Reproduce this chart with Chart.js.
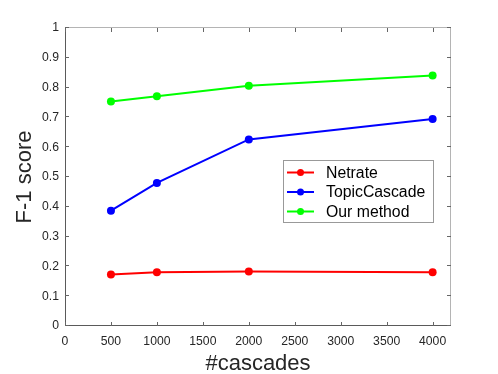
<!DOCTYPE html>
<html>
<head>
<meta charset="utf-8">
<script src="https://cdn.jsdelivr.net/npm/chart.js@4/dist/chart.umd.min.js"></script>
<style>
  html, body { margin: 0; padding: 0; background: #fff; }
  #wrap { width: 498px; height: 374px; }
</style>
</head>
<body>
<div id="wrap"><canvas id="f1Chart"></canvas></div>
<script>
// data
const cascades = [500, 1000, 2000, 4000];
const netrate = [0.173, 0.180, 0.183, 0.180];
const topicCascade = [0.387, 0.480, 0.626, 0.695];
const ourMethod = [0.753, 0.771, 0.806, 0.841];
const xTicks = [0, 500, 1000, 1500, 2000, 2500, 3000, 3500, 4000];
const yTicks = [0, 0.1, 0.2, 0.3, 0.4, 0.5, 0.6, 0.7, 0.8, 0.9, 1];

const FONT = '"Liberation Sans", Arial, Helvetica, sans-serif';

function series(label, values, color) {
    return {
        label: label,
        data: cascades.map((x, i) => ({ x: x, y: values[i] })),
        borderColor: color,
        backgroundColor: color,
        borderWidth: 2,
        pointRadius: 4,
        pointHoverRadius: 4,
        pointBorderWidth: 0,
        tension: 0
    };
}

// MATLAB-ish box with inward ticks
const boxAxes = {
    id: 'boxAxes',
    beforeDatasetsDraw(chart) {
        const { ctx, chartArea: a, scales: { x, y } } = chart;
        const len = 4;
        ctx.save();
        ctx.lineWidth = 1;
        ctx.strokeStyle = '#b4b4b4';
        ctx.beginPath();
        ctx.moveTo(a.left, a.top - 0.5); ctx.lineTo(a.right, a.top - 0.5);
        ctx.moveTo(a.right - 0.5, a.top); ctx.lineTo(a.right - 0.5, a.bottom);
        ctx.stroke();
        ctx.strokeStyle = '#5a5a5a';
        ctx.beginPath();
        ctx.moveTo(a.left + 0.5, a.top); ctx.lineTo(a.left + 0.5, a.bottom);
        ctx.moveTo(a.left, a.bottom - 0.5); ctx.lineTo(a.right, a.bottom - 0.5);
        ctx.stroke();
        ctx.strokeStyle = '#666';
        ctx.beginPath();
        xTicks.forEach(v => {
            const px = Math.round(x.getPixelForValue(v)) + 0.5;
            ctx.moveTo(px, a.bottom); ctx.lineTo(px, a.bottom - len);
            ctx.moveTo(px, a.top); ctx.lineTo(px, a.top + len);
        });
        yTicks.forEach(v => {
            const py = Math.round(y.getPixelForValue(v)) - 0.5;
            ctx.moveTo(a.left, py); ctx.lineTo(a.left + len, py);
            ctx.moveTo(a.right, py); ctx.lineTo(a.right - len, py);
        });
        ctx.stroke();
        ctx.restore();
    }
};

// legend box inside the axes
const boxLegend = {
    id: 'boxLegend',
    afterDatasetsDraw(chart) {
        const ctx = chart.ctx;
        const bx = 283.5, by = 160.5, bw = 150, bh = 62;
        ctx.save();
        ctx.fillStyle = '#fff';
        ctx.fillRect(bx, by, bw, bh);
        ctx.strokeStyle = '#999';
        ctx.lineWidth = 1;
        ctx.strokeRect(bx, by, bw, bh);
        ctx.font = '15.8px ' + FONT;
        ctx.textBaseline = 'middle';
        chart.data.datasets.forEach((ds, i) => {
            const ry = 172.5 + i * 19.5;
            ctx.strokeStyle = ds.borderColor;
            ctx.lineWidth = 2;
            ctx.beginPath();
            ctx.moveTo(287, ry); ctx.lineTo(314, ry);
            ctx.stroke();
            ctx.fillStyle = ds.borderColor;
            ctx.beginPath();
            ctx.arc(300.5, ry, 3.5, 0, Math.PI * 2);
            ctx.fill();
            ctx.fillStyle = '#000';
            ctx.fillText(ds.label, 326, ry + 1);
        });
        ctx.restore();
    }
};

new Chart(document.getElementById('f1Chart'), {
    type: 'line',
    data: {
        datasets: [
            series('Netrate', netrate, '#ff0000'),
            series('TopicCascade', topicCascade, '#0000ff'),
            series('Our method', ourMethod, '#00ff00')
        ]
    },
    options: {
        responsive: true,
        maintainAspectRatio: false,
        animation: false,
        layout: { padding: { left: 0, top: 28, right: 47, bottom: 0 } },
        plugins: {
            legend: { display: false },
            tooltip: { enabled: false }
        },
        scales: {
            x: {
                type: 'linear',
                min: 0,
                max: 4200,
                afterBuildTicks: s => { s.ticks = xTicks.map(v => ({ value: v })); },
                afterFit: s => { s.height = 48; },
                grid: { display: false, drawTicks: false },
                border: { display: false },
                ticks: {
                    padding: 8,
                    color: '#262626',
                    font: { family: FONT, size: 12.2 },
                    maxRotation: 0,
                    callback: v => String(v)
                },
                title: {
                    display: true,
                    text: '#cascades',
                    color: '#262626',
                    font: { family: FONT, size: 22, lineHeight: 1 },
                    padding: { top: 0, bottom: -1 }
                }
            },
            y: {
                min: 0,
                max: 1,
                afterBuildTicks: s => { s.ticks = yTicks.map(v => ({ value: v })); },
                afterFit: s => { s.width = 65; },
                grid: { display: false, drawTicks: false },
                border: { display: false },
                ticks: {
                    padding: 6,
                    color: '#262626',
                    font: { family: FONT, size: 12.2 },
                    callback: v => String(v)
                },
                title: {
                    display: true,
                    text: 'F-1 score',
                    color: '#262626',
                    font: { family: FONT, size: 22, lineHeight: 1 },
                    padding: { top: 14, bottom: 0 }
                }
            }
        }
    },
    plugins: [boxAxes, boxLegend]
});
</script>
</body>
</html>
